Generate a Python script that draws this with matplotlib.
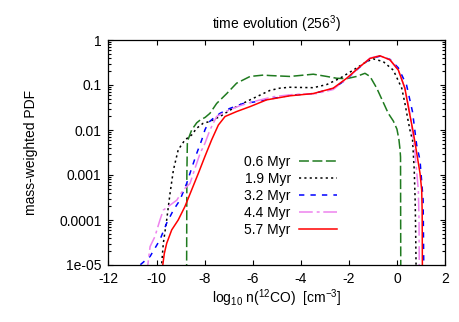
import numpy as np
import matplotlib
matplotlib.use('Agg')
import matplotlib.pyplot as plt
from matplotlib.ticker import LogLocator, NullFormatter

plt.rcParams['font.family'] = ['Liberation Sans', 'DejaVu Sans']
plt.rcParams['mathtext.fontset'] = 'custom'
plt.rcParams['mathtext.rm'] = 'Liberation Sans'
plt.rcParams['mathtext.it'] = 'Liberation Sans:italic'
plt.rcParams['axes.unicode_minus'] = False

# values: x = log10 n(12CO), y = log10 of the PDF
x_06 = [-8.75, -8.74, -8.72, -8.68, -8.54, -8.33, -8.19, -7.98, -7.78, -7.50, -7.08,
        -6.67, -6.11, -5.56, -5.28, -4.45, -3.48, -2.92, -2.51, -2.10, -1.68, -1.33,
        -1.12, -0.84, -0.60, -0.36, -0.15, 0.00, 0.08, 0.13, 0.15, 0.16]
y_06 = [-5.2, -3.00, -2.30, -2.20, -2.00, -1.84, -1.78, -1.72, -1.63, -1.41, -1.19,
        -0.96, -0.81, -0.78, -0.79, -0.81, -0.76, -0.81, -0.85, -0.86, -0.81, -0.74,
        -0.81, -1.07, -1.35, -1.63, -1.80, -1.98, -2.20, -2.44, -2.60, -5.2]

x_19 = [-9.82, -9.72, -9.58, -9.44, -9.30, -9.10, -8.82, -8.54, -8.33, -8.06, -7.78,
        -7.36, -6.95, -6.53, -6.11, -5.56, -5.28, -4.87, -4.45, -3.48, -2.92, -2.37,
        -1.82, -1.26, -0.98, -0.57, -0.15, 0.20, 0.33, 0.45, 0.56, 0.65, 0.72, 0.76,
        0.78, 0.80]
y_19 = [-5.2, -4.52, -4.00, -3.41, -2.89, -2.44, -2.22, -2.11, -1.96, -1.85, -1.81,
        -1.70, -1.56, -1.44, -1.33, -1.19, -1.12, -1.07, -1.05, -1.06, -0.99, -0.85,
        -0.67, -0.48, -0.42, -0.48, -0.67, -1.07, -1.40, -1.75, -2.05, -2.22, -2.89, -3.60,
        -4.30, -5.2]

x_32 = [-10.95, -10.69, -10.27, -9.86, -9.58, -9.30, -9.03, -8.75, -8.54, -8.33, -8.12,
        -7.99, -7.85, -7.64, -7.36, -6.95, -6.39, -5.84, -5.28, -4.45, -3.48, -2.65,
        -2.09, -1.54, -1.12, -0.71, -0.29, 0.06, 0.40, 0.65, 0.82, 0.96, 1.09, 1.12]
y_32 = [-5.2, -5.00, -4.81, -4.44, -4.07, -3.78, -3.56, -3.19, -2.85, -2.52, -2.22,
        -2.00, -1.84, -1.74, -1.63, -1.52, -1.41, -1.37, -1.31, -1.23, -1.19, -1.08,
        -0.87, -0.60, -0.42, -0.36, -0.43, -0.62, -1.00, -1.60, -2.33, -2.67, -3.56, -5.2]

x_44 = [-10.41, -10.27, -10.07, -9.86, -9.72, -9.44, -9.16, -8.89, -8.61, -8.40, -8.19,
        -7.99, -7.78, -7.50, -7.08, -6.53, -5.98, -5.14, -4.31, -3.34, -2.65, -2.09,
        -1.54, -1.12, -0.71, -0.29, 0.06, 0.33, 0.55, 0.75, 0.89, 0.92, 0.93]
y_44 = [-5.2, -4.59, -4.37, -4.00, -3.78, -3.67, -3.56, -3.33, -3.19, -2.85, -2.52,
        -2.30, -2.00, -1.70, -1.58, -1.46, -1.37, -1.26, -1.21, -1.19, -1.10, -0.86,
        -0.60, -0.40, -0.35, -0.44, -0.67, -1.07, -1.65, -2.50, -3.33, -4.00, -5.2]

x_57 = [-9.79, -9.68, -9.58, -9.37, -9.10, -8.82, -8.54, -8.26, -7.99, -7.71, -7.43,
        -7.15, -6.67, -6.11, -5.42, -4.45, -3.48, -2.65, -2.09, -1.54, -1.12, -0.71,
        -0.29, 0.06, 0.33, 0.51, 0.68, 0.82, 0.96, 1.03, 1.05, 1.06]
y_57 = [-5.2, -4.75, -4.52, -4.22, -4.00, -3.70, -3.33, -2.96, -2.59, -2.22, -1.89,
        -1.70, -1.59, -1.48, -1.33, -1.24, -1.19, -1.07, -0.85, -0.59, -0.41, -0.35,
        -0.44, -0.67, -1.07, -1.59, -2.05, -2.50, -2.96, -3.33, -3.80, -5.2]

labels = ['0.6 Myr', '1.9 Myr', '3.2 Myr', '4.4 Myr', '5.7 Myr']
colors = ['#1f7a1f', '#000000', '#0000ff', '#ee82ee', '#ff0000']
xs = [x_06, x_19, x_32, x_44, x_57]
ys = [y_06, y_19, y_32, y_44, y_57]
dash_styles = [(6.5, 2.3), (1.4, 2.1), (3.5, 4.0), (9.0, 2.6, 1.9, 2.4), None]

y_ticks = [1, 0.1, 0.01, 0.001, 0.0001, 1e-05]
y_tick_labels = ['1', '0.1', '0.01', '0.001', '0.0001', '1e-05']
x_ticks = [-12, -10, -8, -6, -4, -2, 0, 2]

fig = plt.figure(figsize=(4.6, 3.22), dpi=100)
ax = fig.add_axes([108.5 / 460, 1 - 265 / 322, 336.5 / 460, 225 / 322])

lw = 1.1
for x, y, c, d, lab in zip(xs, ys, colors, dash_styles, labels):
    line, = ax.plot(x, 10 ** np.array(y), color=c, lw=lw, label=lab)
    if d is not None:
        line.set_dashes(d)

ax.set_yscale('log')
ax.set_xlim(-12, 2)
ax.set_ylim(1e-05, 1)
ax.set_xticks(x_ticks)
ax.set_xticklabels([str(t) for t in x_ticks])
ax.set_yticks(y_ticks)
ax.set_yticklabels(y_tick_labels)
ax.yaxis.set_minor_locator(LogLocator(base=10, subs=np.arange(2, 10)))
ax.yaxis.set_minor_formatter(NullFormatter())

ax.tick_params(which='both', direction='in', top=True, right=True, labelsize=10,
               colors='black', width=0.8)
ax.tick_params(which='major', length=3.5)
ax.tick_params(which='minor', length=2)
ax.tick_params(axis='x', pad=5)
ax.tick_params(axis='y', pad=5)
for s in ax.spines.values():
    s.set_linewidth(0.9)

ax.set_title(r'time evolution (256$^3$)', fontsize=10, pad=8)
ax.set_xlabel(r'log$_{10}$ n($^{12}$CO)  [cm$^{-3}$]', fontsize=10)
ax.set_ylabel('mass-weighted PDF', fontsize=10)
ax.xaxis.set_label_coords(0.5, -0.1)
ax.yaxis.set_label_coords(-0.21, 0.5)

ax.legend(loc='upper right', bbox_to_anchor=(0.678, 0.49), frameon=False,
          markerfirst=False, fontsize=10, handlelength=2.7, handletextpad=0.6,
          labelspacing=0.22, borderpad=0, borderaxespad=0)

fig.savefig('out.png', dpi=100)
